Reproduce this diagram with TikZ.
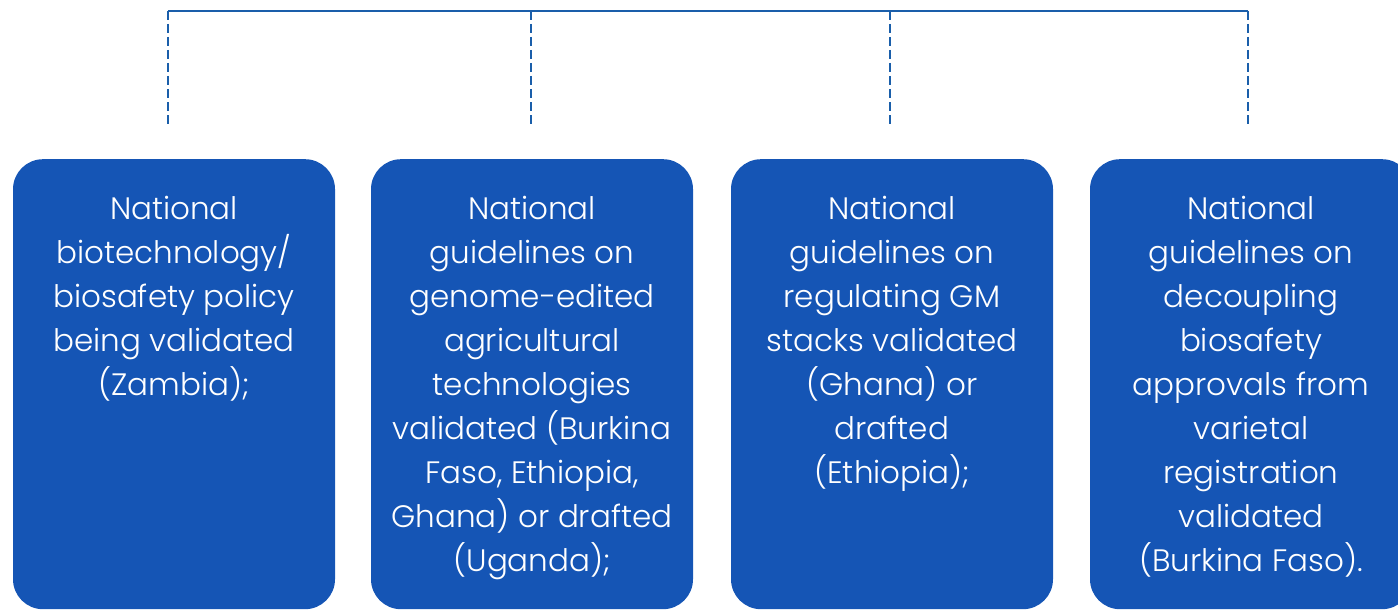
\documentclass[tikz,border=0pt]{standalone}
\usepackage{fontspec}
\setmainfont{Poppins}[UprightFont=* Light]
\usetikzlibrary{positioning}
\definecolor{cardblue}{RGB}{21,85,181}
\definecolor{linkblue}{RGB}{26,94,170}
\tikzset{
  card/.style={fill=cardblue, rounded corners=30pt, minimum width=322pt, minimum height=450pt, anchor=north, inner sep=0pt},
  cardtext/.style={text=white, align=center, font=\fontsize{31}{44}\selectfont, anchor=north, inner sep=0pt},
  link/.style={draw=linkblue, line width=2pt},
  drop/.style={link, dash pattern=on 9pt off 4pt}
}
\begin{document}
\begin{tikzpicture}[x=1pt,y=-1pt]
\useasboundingbox (0,0) rectangle (1398,610);
\clip (0,0) rectangle (1398,610);

% connector bar
\coordinate (h1) at (168,11);
\coordinate (h2) at (531,11);
\coordinate (h3) at (890,11);
\coordinate (h4) at (1248,11);
\coordinate (e1) at (168,126);
\coordinate (e2) at (531,126);
\coordinate (e3) at (890,126);
\coordinate (e4) at (1248,126);
\draw[link] (h1) -- (h4);
\foreach \i in {1,...,4}
  \draw[drop] (h\i) -- (e\i);

% cards
\node[card] (c1) at (174,159) {};
\node[card] (c2) at (532,159) {};
\node[card] (c3) at (892,159) {};
\node[card] (c4) at (1251,159) {};

\node[cardtext, below=37pt of c1.north] (t1) {National\\biotechnology/\\biosafety policy\\being validated\\(Zambia);};
\node[cardtext, below=37pt of c2.north] (t2) {National\\guidelines on\\genome-edited\\agricultural\\technologies\\validated (Burkina\\Faso, Ethiopia,\\Ghana) or drafted\\(Uganda);};
\node[cardtext, below=37pt of c3.north] (t3) {National\\guidelines on\\regulating GM\\stacks validated\\(Ghana) or\\drafted\\(Ethiopia);};
\node[cardtext, below=37pt of c4.north] (t4) {National\\guidelines on\\decoupling\\biosafety\\approvals from\\varietal\\registration\\validated\\(Burkina Faso).};
\end{tikzpicture}
\end{document}
